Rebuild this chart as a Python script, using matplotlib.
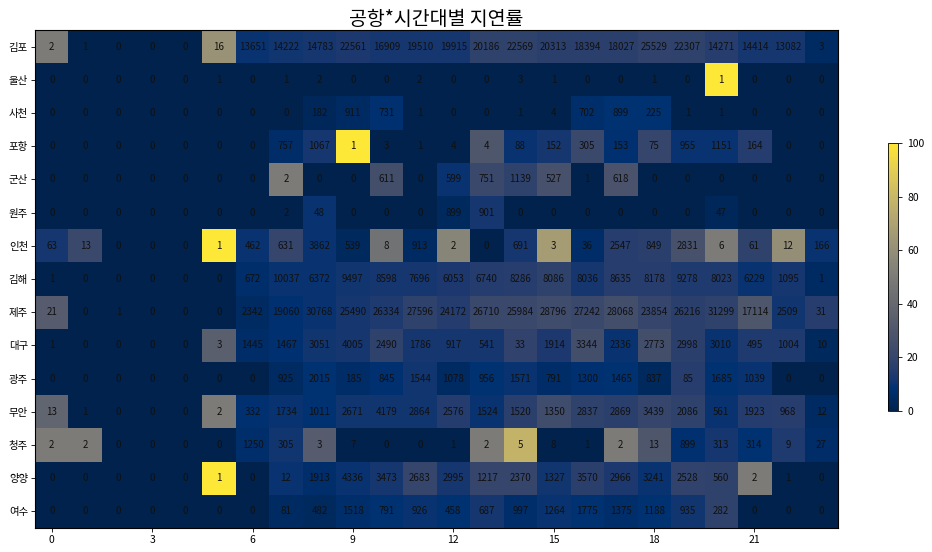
import numpy as np
import matplotlib
matplotlib.use('Agg')
import matplotlib.pyplot as plt

plt.rcParams['font.family'] = ['Noto Sans CJK KR', 'DejaVu Sans']

airports = ['김포', '울산', '사천', '포항', '군산', '원주', '인천', '김해',
            '제주', '대구', '광주', '무안', '청주', '양양', '여수']
hours = list(range(24))

# number of flights per airport / hour (annotation)
counts = [
    [2, 1, 0, 0, 0, 16, 13651, 14222, 14783, 22561, 16909, 19510, 19915, 20186, 22569, 20313, 18394, 18027, 25529, 22307, 14271, 14414, 13082, 3],
    [0, 0, 0, 0, 0, 1, 0, 1, 2, 0, 0, 2, 0, 0, 3, 1, 0, 0, 1, 0, 1, 0, 0, 0],
    [0, 0, 0, 0, 0, 0, 0, 0, 182, 911, 731, 1, 0, 0, 1, 4, 702, 899, 225, 1, 1, 0, 0, 0],
    [0, 0, 0, 0, 0, 0, 0, 757, 1067, 1, 3, 1, 4, 4, 88, 152, 305, 153, 75, 955, 1151, 164, 0, 0],
    [0, 0, 0, 0, 0, 0, 0, 2, 0, 0, 611, 0, 599, 751, 1139, 527, 1, 618, 0, 0, 0, 0, 0, 0],
    [0, 0, 0, 0, 0, 0, 0, 2, 48, 0, 0, 0, 899, 901, 0, 0, 0, 0, 0, 0, 47, 0, 0, 0],
    [63, 13, 0, 0, 0, 1, 462, 631, 3862, 539, 8, 913, 2, 0, 691, 3, 36, 2547, 849, 2831, 6, 61, 12, 166],
    [1, 0, 0, 0, 0, 0, 672, 10037, 6372, 9497, 8598, 7696, 6053, 6740, 8286, 8086, 8036, 8635, 8178, 9278, 8023, 6229, 1095, 1],
    [21, 0, 1, 0, 0, 0, 2342, 19060, 30768, 25490, 26334, 27596, 24172, 26710, 25984, 28796, 27242, 28068, 23854, 26216, 31299, 17114, 2509, 31],
    [1, 0, 0, 0, 0, 3, 1445, 1467, 3051, 4005, 2490, 1786, 917, 541, 33, 1914, 3344, 2336, 2773, 2998, 3010, 495, 1004, 10],
    [0, 0, 0, 0, 0, 0, 0, 925, 2015, 185, 845, 1544, 1078, 956, 1571, 791, 1300, 1465, 837, 85, 1685, 1039, 0, 0],
    [13, 1, 0, 0, 0, 2, 332, 1734, 1011, 2671, 4179, 2864, 2576, 1524, 1520, 1350, 2837, 2869, 3439, 2086, 561, 1923, 968, 12],
    [2, 2, 0, 0, 0, 0, 1250, 305, 3, 7, 0, 0, 1, 2, 5, 8, 1, 2, 13, 899, 313, 314, 9, 27],
    [0, 0, 0, 0, 0, 1, 0, 12, 1913, 4336, 3473, 2683, 2995, 1217, 2370, 1327, 3570, 2966, 3241, 2528, 560, 2, 1, 0],
    [0, 0, 0, 0, 0, 0, 0, 81, 482, 1518, 791, 926, 458, 687, 997, 1264, 1775, 1375, 1188, 935, 282, 0, 0, 0],
]

# delay rate (%) per airport / hour (cell colour)
rates = [
    [50, 0, 0, 0, 0, 62, 10, 11, 12, 13, 12, 12, 12, 18, 18, 17, 17, 17, 19, 18, 16, 12, 12, 5],
    [0, 0, 0, 0, 0, 0, 0, 0, 0, 0, 0, 0, 0, 0, 0, 0, 0, 0, 0, 0, 100, 0, 0, 0],
    [0, 0, 0, 0, 0, 0, 0, 0, 3, 5, 8, 0, 0, 0, 0, 0, 7, 9, 9, 0, 0, 0, 0, 0],
    [0, 0, 0, 0, 0, 0, 0, 6, 12, 100, 0, 0, 0, 30, 10, 12, 22, 8, 20, 10, 10, 15, 0, 0],
    [0, 0, 0, 0, 0, 0, 0, 50, 0, 0, 25, 0, 10, 22, 18, 27, 0, 28, 0, 0, 0, 0, 0, 0],
    [0, 0, 0, 0, 0, 0, 0, 0, 10, 0, 0, 0, 4, 12, 0, 0, 0, 0, 0, 0, 3, 0, 0, 0],
    [12, 22, 0, 0, 0, 100, 10, 20, 10, 4, 45, 5, 55, 0, 12, 67, 6, 16, 17, 27, 50, 18, 60, 10],
    [0, 0, 0, 0, 0, 0, 7, 10, 10, 11, 12, 12, 13, 15, 16, 18, 12, 16, 16, 14, 14, 10, 12, 5],
    [33, 0, 0, 0, 0, 0, 5, 8, 10, 12, 14, 18, 15, 22, 22, 24, 22, 25, 20, 17, 18, 30, 11, 16],
    [0, 0, 0, 0, 0, 35, 6, 8, 11, 12, 18, 12, 12, 12, 19, 13, 25, 10, 25, 17, 10, 14, 14, 4],
    [0, 0, 0, 0, 0, 0, 0, 5, 9, 6, 8, 11, 5, 9, 10, 6, 8, 9, 4, 16, 9, 10, 0, 0],
    [38, 0, 0, 0, 0, 50, 8, 10, 9, 11, 11, 11, 15, 10, 17, 24, 18, 17, 20, 18, 10, 15, 16, 5],
    [50, 50, 0, 0, 0, 0, 7, 11, 33, 0, 0, 0, 0, 50, 78, 0, 0, 50, 30, 8, 12, 9, 14, 6],
    [0, 0, 0, 0, 0, 100, 0, 10, 7, 10, 12, 20, 12, 20, 20, 11, 17, 13, 10, 19, 18, 50, 0, 0],
    [0, 0, 0, 0, 0, 0, 0, 5, 4, 7, 9, 10, 9, 12, 7, 10, 9, 7, 9, 11, 18, 0, 0, 0],
]

rate_arr = np.array(rates, dtype=float)
count_arr = np.array(counts)

fig = plt.figure(figsize=(9.32, 5.52), dpi=100)
ax = fig.add_axes([0.0376, 0.0435, 0.8616, 0.902])
cax = fig.add_axes([888 / 932, 141 / 552, 10 / 932, 268 / 552])

im = ax.imshow(rate_arr, cmap='cividis', vmin=0, vmax=100, aspect='auto',
               interpolation='nearest')

for i in range(len(airports)):
    for j in range(len(hours)):
        ax.text(j, i, str(count_arr[i, j]), ha='center', va='center',
                fontsize=7, color='#111111')

ax.set_xticks(hours[::3])
ax.set_xticklabels([str(h) for h in hours[::3]], fontsize=7.5)
ax.set_yticks(range(len(airports)))
ax.set_yticklabels(airports, fontsize=7.5)
ax.tick_params(length=3, width=0.6, pad=2)
ax.set_title('공항*시간대별 지연률', fontsize=14, pad=3)

cb = fig.colorbar(im, cax=cax)
cb.set_ticks([0, 20, 40, 60, 80, 100])
cb.ax.tick_params(labelsize=7.5, length=3, width=0.6)
cb.outline.set_linewidth(0.6)

fig.savefig('out.png', dpi=100)
